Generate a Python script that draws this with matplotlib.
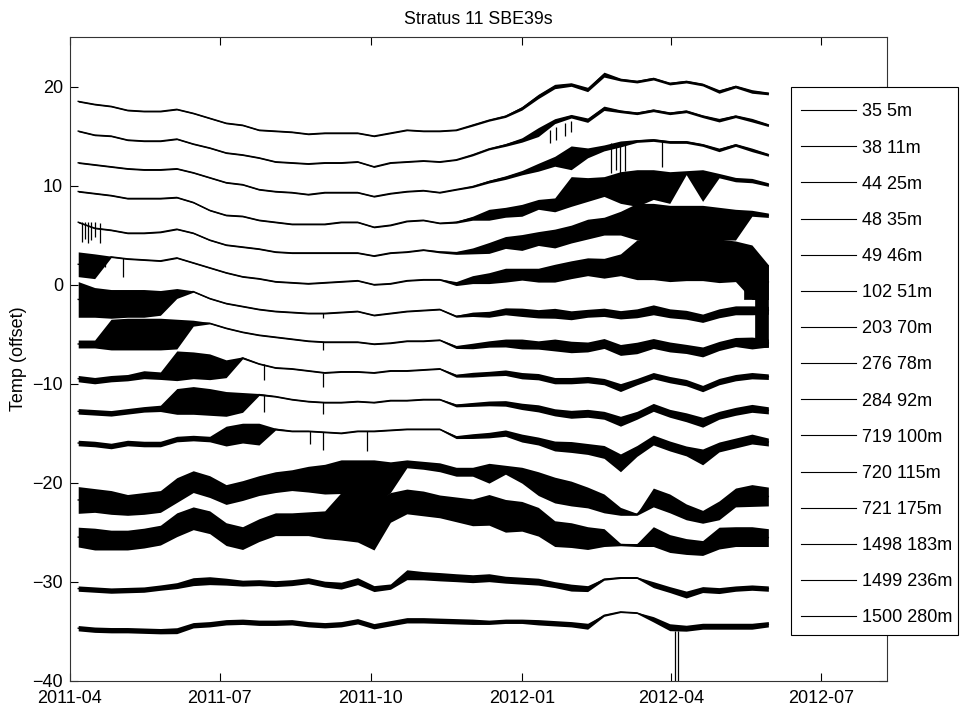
import numpy as np
import pandas as pd
import matplotlib
matplotlib.use('Agg')
import matplotlib.pyplot as plt
import matplotlib.dates as mdates
from matplotlib.patches import Rectangle

plt.rcParams['font.family'] = ['Liberation Sans', 'DejaVu Sans']

# --- data ---------------------------------------------------------------
# one sample every 10 days, 2011-04-06 .. 2012-05-30
dates = pd.date_range('2011-04-06', periods=43, freq='10D')

labels = ['35 5m', '38 11m', '44 25m', '48 35m', '49 46m', '102 51m', '203 70m',
          '276 78m', '284 92m', '719 100m', '720 115m', '721 175m', '1498 183m',
          '1499 236m', '1500 280m']

# centre of each trace (offset temperature) and half-width of its noise band
s01_mid = [18.5, 18.2, 18.0, 17.6, 17.5, 17.5, 17.7, 17.3, 16.8, 16.3,
           16.1, 15.6, 15.5, 15.4, 15.2, 15.3, 15.3, 15.3, 15.0, 15.3,
           15.6, 15.5, 15.5, 15.6, 16.1, 16.6, 17.0, 17.8, 19.0, 20.0,
           20.2, 19.7, 21.2, 20.7, 20.5, 20.8, 20.3, 20.5, 20.2, 19.5,
           20.0, 19.5, 19.3]
s01_hw = [0.07, 0.07, 0.07, 0.07, 0.07, 0.07, 0.07, 0.07, 0.07, 0.07,
          0.07, 0.07, 0.07, 0.07, 0.07, 0.07, 0.07, 0.07, 0.07, 0.07,
          0.07, 0.07, 0.07, 0.07, 0.1, 0.1, 0.12, 0.18, 0.22, 0.22,
          0.18, 0.22, 0.25, 0.14, 0.14, 0.14, 0.14, 0.14, 0.14, 0.18,
          0.14, 0.18, 0.14]

s02_mid = [15.5, 15.1, 15.0, 14.6, 14.5, 14.5, 14.7, 14.2, 13.8, 13.3,
           13.1, 12.8, 12.4, 12.3, 12.2, 12.3, 12.3, 12.4, 11.9, 12.3,
           12.4, 12.5, 12.4, 12.6, 13.1, 13.7, 14.1, 14.6, 15.4, 16.5,
           17.0, 16.6, 17.8, 17.5, 17.3, 17.6, 17.3, 17.5, 17.0, 16.6,
           17.0, 16.6, 16.1]
s02_hw = [0.07, 0.07, 0.07, 0.07, 0.07, 0.07, 0.07, 0.07, 0.07, 0.07,
          0.07, 0.07, 0.07, 0.07, 0.07, 0.07, 0.07, 0.07, 0.07, 0.07,
          0.07, 0.07, 0.07, 0.07, 0.1, 0.1, 0.14, 0.22, 0.45, 0.25,
          0.18, 0.22, 0.22, 0.14, 0.14, 0.14, 0.14, 0.14, 0.14, 0.18,
          0.14, 0.18, 0.14]

s03_mid = [12.3, 12.1, 11.9, 11.7, 11.6, 11.6, 11.7, 11.3, 10.8, 10.3,
           10.1, 9.6, 9.4, 9.3, 9.1, 9.3, 9.3, 9.3, 8.9, 9.2,
           9.4, 9.5, 9.3, 9.6, 9.9, 10.4, 10.8, 11.3, 11.85, 12.45,
           12.8, 13.3, 13.8, 14.2, 14.5, 14.6, 14.4, 14.4, 14.1, 13.6,
           14.1, 13.6, 13.1]
s03_hw = [0.07, 0.07, 0.07, 0.07, 0.07, 0.07, 0.07, 0.07, 0.07, 0.07,
          0.07, 0.07, 0.07, 0.07, 0.07, 0.07, 0.07, 0.07, 0.07, 0.07,
          0.07, 0.07, 0.07, 0.07, 0.1, 0.14, 0.18, 0.22, 0.4, 0.5,
          1.2, 0.5, 0.3, 0.3, 0.14, 0.14, 0.14, 0.14, 0.14, 0.18,
          0.14, 0.18, 0.14]

s04_mid = [9.4, 9.2, 9.0, 8.7, 8.7, 8.7, 8.8, 8.3, 7.5, 7.0,
           6.9, 6.5, 6.3, 6.1, 6.1, 6.1, 6.3, 6.3, 5.8, 6.0,
           6.4, 6.5, 6.2, 6.3, 6.7, 7.05, 7.3, 7.5, 8.1, 8.05,
           9.4, 9.6, 9.9, 9.8, 9.75, 10.1, 9.8, 11.3, 10.0, 11.0,
           10.6, 10.5, 10.1]
s04_hw = [0.07, 0.07, 0.07, 0.07, 0.07, 0.07, 0.07, 0.07, 0.07, 0.07,
          0.07, 0.07, 0.07, 0.07, 0.07, 0.07, 0.07, 0.07, 0.07, 0.07,
          0.07, 0.07, 0.07, 0.1, 0.2, 0.55, 0.5, 0.6, 0.5, 0.7,
          1.5, 1.2, 1.0, 1.6, 1.85, 1.5, 1.6, 0.2, 1.6, 0.22,
          0.22, 0.22, 0.18]

s05_mid = [6.3, 5.7, 5.5, 5.2, 5.2, 5.3, 5.6, 5.2, 4.5, 4.0,
           3.8, 3.6, 3.3, 3.2, 3.2, 3.2, 3.2, 3.2, 2.9, 3.2,
           3.3, 3.5, 3.3, 3.2, 3.4, 3.7, 4.25, 4.25, 4.65, 4.65,
           5.1, 5.6, 5.9, 6.2, 6.35, 6.35, 6.25, 6.25, 6.25, 6.15,
           6.05, 7.2, 7.0]
s05_hw = [0.07, 0.07, 0.07, 0.07, 0.07, 0.07, 0.07, 0.07, 0.07, 0.07,
          0.07, 0.07, 0.07, 0.07, 0.07, 0.07, 0.07, 0.07, 0.07, 0.07,
          0.07, 0.07, 0.1, 0.15, 0.3, 0.55, 0.6, 0.8, 0.7, 0.95,
          0.9, 1.0, 0.9, 1.2, 1.85, 1.85, 1.75, 1.75, 1.75, 1.65,
          1.55, 0.3, 0.22]

s06_mid = [2.05, 1.85, 2.8, 2.6, 2.5, 2.4, 2.7, 2.2, 1.7, 1.2,
           0.8, 0.6, 0.3, 0.2, 0.1, 0.2, 0.3, 0.4, 0.0, 0.1,
           0.4, 0.5, 0.5, 0.1, 0.5, 0.65, 0.95, 1.05, 0.95, 1.15,
           1.5, 1.8, 1.65, 2.0, 2.5, 2.65, 2.55, 2.6, 2.6, 2.4,
           2.35, 1.25, 0.25]
s06_hw = [1.25, 1.25, 0.07, 0.07, 0.07, 0.07, 0.07, 0.07, 0.07, 0.07,
          0.07, 0.07, 0.07, 0.07, 0.07, 0.07, 0.07, 0.07, 0.07, 0.07,
          0.07, 0.07, 0.07, 0.2, 0.4, 0.55, 0.7, 0.6, 0.7, 0.9,
          0.9, 0.9, 1.0, 1.1, 2.0, 2.15, 2.25, 2.2, 2.2, 2.2,
          2.05, 2.75, 1.75]

s07_mid = [-1.5, -1.8, -1.95, -1.9, -1.9, -1.85, -0.9, -0.7, -1.4, -1.9,
           -2.2, -2.5, -2.7, -2.8, -2.9, -2.9, -2.8, -2.7, -3.1, -2.9,
           -2.7, -2.6, -2.5, -3.2, -3.0, -3.0, -2.7, -2.8, -2.95, -2.9,
           -3.1, -2.9, -2.8, -3.05, -2.9, -2.55, -2.9, -3.05, -3.4, -2.9,
           -2.6, -2.6, -2.6]
s07_hw = [1.8, 1.5, 1.45, 1.4, 1.4, 1.25, 0.5, 0.07, 0.07, 0.07,
          0.07, 0.07, 0.07, 0.07, 0.07, 0.07, 0.07, 0.07, 0.07, 0.07,
          0.07, 0.07, 0.07, 0.1, 0.22, 0.3, 0.35, 0.42, 0.42, 0.5,
          0.45, 0.4, 0.42, 0.42, 0.45, 0.5, 0.45, 0.45, 0.42, 0.45,
          0.45, 0.45, 0.4]

s08_mid = [-6.0, -6.0, -5.05, -5.0, -5.0, -5.0, -5.0, -3.9, -3.9, -4.4,
           -4.8, -5.1, -5.3, -5.5, -5.7, -5.8, -5.8, -5.8, -6.0, -5.9,
           -5.7, -5.7, -5.6, -6.3, -6.2, -6.0, -5.9, -6.0, -6.1, -6.1,
           -6.3, -6.3, -5.95, -6.6, -6.4, -5.95, -6.3, -6.5, -6.8, -6.2,
           -5.8, -5.9, -5.9]
s08_hw = [0.4, 0.4, 1.55, 1.6, 1.6, 1.6, 1.5, 0.3, 0.07, 0.07,
          0.07, 0.07, 0.07, 0.07, 0.07, 0.07, 0.07, 0.07, 0.07, 0.07,
          0.07, 0.07, 0.07, 0.15, 0.28, 0.32, 0.4, 0.5, 0.42, 0.6,
          0.58, 0.5, 0.5, 0.55, 0.58, 0.5, 0.5, 0.46, 0.5, 0.46,
          0.46, 0.6, 0.4]

s09_mid = [-9.5, -9.7, -9.5, -9.4, -9.1, -9.2, -8.2, -8.15, -8.3, -8.5,
           -7.4, -8.0, -8.4, -8.5, -8.7, -8.9, -8.8, -8.8, -8.9, -8.7,
           -8.7, -8.6, -8.5, -9.2, -9.1, -9.0, -8.9, -9.2, -9.3, -9.7,
           -9.7, -9.6, -9.8, -10.4, -9.8, -9.2, -9.6, -9.9, -10.5, -9.8,
           -9.4, -9.2, -9.3]
s09_hw = [0.32, 0.32, 0.32, 0.32, 0.4, 0.38, 1.5, 1.35, 1.3, 0.9,
          0.1, 0.07, 0.07, 0.07, 0.07, 0.07, 0.07, 0.07, 0.07, 0.07,
          0.07, 0.07, 0.07, 0.15, 0.24, 0.24, 0.28, 0.32, 0.32, 0.32,
          0.32, 0.32, 0.32, 0.4, 0.32, 0.32, 0.32, 0.32, 0.32, 0.32,
          0.32, 0.32, 0.28]

s10_mid = [-12.8, -12.9, -13.0, -12.8, -12.6, -12.5, -11.8, -11.7, -11.85, -12.05,
           -11.9, -11.1, -11.3, -11.6, -11.8, -11.9, -11.9, -11.8, -11.9, -11.7,
           -11.7, -11.6, -11.6, -12.2, -12.1, -12.0, -12.0, -12.3, -12.5, -12.9,
           -13.1, -13.0, -13.2, -13.8, -13.2, -12.4, -13.0, -13.4, -13.9, -13.2,
           -12.8, -12.5, -12.7]
s10_hw = [0.28, 0.28, 0.28, 0.28, 0.28, 0.32, 1.3, 1.4, 1.35, 1.25,
          1.0, 0.1, 0.07, 0.07, 0.07, 0.07, 0.07, 0.07, 0.07, 0.07,
          0.07, 0.07, 0.07, 0.15, 0.2, 0.24, 0.28, 0.32, 0.36, 0.36,
          0.4, 0.4, 0.4, 0.5, 0.4, 0.4, 0.4, 0.45, 0.5, 0.4,
          0.4, 0.4, 0.36]

s11_mid = [-16.0, -16.1, -16.3, -16.0, -16.1, -16.1, -15.6, -15.5, -15.6, -15.3,
           -15.0, -15.1, -14.6, -14.8, -14.8, -14.9, -15.0, -14.8, -14.8, -14.7,
           -14.6, -14.6, -14.6, -15.4, -15.3, -15.2, -15.0, -15.5, -15.8, -16.3,
           -16.4, -16.6, -16.9, -18.0, -16.8, -15.7, -16.3, -16.8, -17.4, -16.4,
           -16.0, -15.6, -15.9]
s11_hw = [0.28, 0.28, 0.28, 0.28, 0.28, 0.28, 0.28, 0.28, 0.28, 1.0,
          1.0, 1.1, 0.1, 0.07, 0.07, 0.07, 0.07, 0.07, 0.07, 0.07,
          0.07, 0.07, 0.07, 0.15, 0.24, 0.28, 0.32, 0.4, 0.4, 0.5,
          0.55, 0.55, 0.65, 0.9, 0.55, 0.5, 0.5, 0.5, 0.8, 0.5,
          0.5, 0.5, 0.4]

s12_mid = [-21.75, -21.8, -22.0, -22.25, -22.1, -21.9, -20.75, -19.9, -20.4, -21.2,
           -20.8, -20.3, -19.95, -19.75, -19.65, -19.65, -19.4, -19.85, -20.05, -19.45,
           -18.1, -18.25, -18.45, -18.9, -18.9, -19.05, -18.7, -19.25, -20.1, -20.75,
           -21.1, -21.5, -22.1, -22.9, -23.2, -21.5, -22.1, -22.95, -23.45, -22.8,
           -21.5, -21.3, -21.4]
s12_hw = [1.35, 1.2, 1.2, 1.05, 1.1, 1.1, 1.25, 1.1, 1.1, 1.0,
          1.0, 1.0, 1.05, 1.05, 1.3, 1.5, 1.7, 2.15, 2.35, 1.55,
          0.4, 0.4, 0.45, 0.45, 0.45, 1.0, 0.45, 0.8, 1.2, 1.3,
          1.25, 1.05, 0.95, 0.4, 0.1, 0.95, 0.95, 0.8, 0.65, 0.95,
          0.95, 1.1, 0.95]

s13_mid = [-25.5, -25.7, -25.8, -25.8, -25.6, -25.3, -24.25, -23.6, -24.0, -25.2,
           -25.6, -24.8, -24.2, -24.2, -24.15, -24.25, -23.4, -23.5, -24.4, -22.5,
           -21.9, -22.1, -22.4, -22.7, -23.0, -22.75, -23.35, -23.4, -23.95, -25.15,
           -25.3, -25.6, -25.55, -26.25, -26.3, -25.45, -26.15, -26.45, -26.6, -25.6,
           -25.45, -25.45, -25.55]
s13_hw = [1.0, 1.1, 1.0, 1.0, 1.0, 1.0, 1.2, 1.15, 1.15, 1.15,
          1.15, 1.15, 1.15, 1.15, 1.2, 1.4, 2.4, 2.5, 2.4, 1.5,
          1.25, 1.25, 1.15, 1.25, 1.35, 1.55, 1.65, 1.5, 1.45, 1.3,
          1.25, 1.15, 0.9, 0.12, 0.15, 1.0, 0.9, 0.8, 0.75, 1.1,
          1.0, 1.0, 0.9]

s14_mid = [-30.7, -30.8, -30.9, -30.85, -30.8, -30.6, -30.4, -30.0, -29.9, -30.0,
           -30.15, -30.1, -30.2, -30.1, -29.9, -30.25, -30.4, -29.95, -30.7, -30.5,
           -29.3, -29.4, -29.5, -29.6, -29.7, -29.6, -29.8, -29.9, -30.0, -30.3,
           -30.6, -30.7, -29.75, -29.6, -29.6, -30.3, -30.8, -31.3, -30.8, -30.9,
           -30.7, -30.6, -30.7]
s14_hw = [0.27, 0.27, 0.27, 0.27, 0.27, 0.27, 0.3, 0.4, 0.4, 0.35,
          0.3, 0.3, 0.3, 0.3, 0.3, 0.3, 0.35, 0.35, 0.3, 0.27,
          0.5, 0.42, 0.42, 0.4, 0.4, 0.4, 0.35, 0.35, 0.35, 0.3,
          0.35, 0.3, 0.1, 0.08, 0.08, 0.3, 0.3, 0.35, 0.3, 0.3,
          0.27, 0.27, 0.27]

s15_mid = [-34.7, -34.85, -34.9, -34.9, -34.95, -35.0, -34.95, -34.4, -34.3, -34.1,
           -34.05, -34.15, -34.15, -34.1, -34.3, -34.4, -34.3, -34.0, -34.5, -34.2,
           -33.9, -33.9, -33.95, -34.0, -34.05, -34.1, -34.0, -34.0, -34.1, -34.2,
           -34.3, -34.5, -33.4, -33.05, -33.15, -33.8, -34.6, -34.7, -34.5, -34.5,
           -34.5, -34.5, -34.3]
s15_hw = [0.27, 0.27, 0.27, 0.27, 0.27, 0.27, 0.3, 0.27, 0.27, 0.27,
          0.27, 0.27, 0.27, 0.27, 0.27, 0.27, 0.27, 0.27, 0.27, 0.27,
          0.27, 0.27, 0.27, 0.27, 0.27, 0.22, 0.22, 0.22, 0.27, 0.27,
          0.27, 0.3, 0.1, 0.07, 0.07, 0.27, 0.35, 0.3, 0.3, 0.3,
          0.3, 0.3, 0.27]

mids = [s01_mid, s02_mid, s03_mid, s04_mid, s05_mid, s06_mid, s07_mid, s08_mid,
        s09_mid, s10_mid, s11_mid, s12_mid, s13_mid, s14_mid, s15_mid]
hws = [s01_hw, s02_hw, s03_hw, s04_hw, s05_hw, s06_hw, s07_hw, s08_hw,
       s09_hw, s10_hw, s11_hw, s12_hw, s13_hw, s14_hw, s15_hw]

# isolated dropouts / spikes: date, top, bottom
spike_dates = ['2011-04-08', '2011-04-10', '2011-04-12', '2011-04-14', '2011-04-16', '2011-04-19',
               '2011-04-22', '2011-05-03',
               '2011-07-28', '2011-07-28', '2011-09-02', '2011-09-02', '2011-09-02',
               '2011-09-02', '2011-09-02', '2011-08-25', '2011-09-29',
               '2012-01-18', '2012-01-22', '2012-01-27', '2012-01-31',
               '2012-02-24', '2012-02-27', '2012-03-01', '2012-03-04',
               '2012-03-26', '2012-04-03', '2012-04-05']
spike_top = [6.3, 6.3, 6.3, 6.3, 6.3, 6.2,
             2.9, 2.7,
             -8.0, -11.1, -8.9, -11.9, -14.9,
             -5.8, -2.9, -14.8, -14.8,
             15.6, 15.9, 16.3, 16.5,
             14.3, 14.3, 14.4, 14.4,
             14.5, -35.0, -35.0]
spike_bot = [4.3, 4.6, 4.2, 4.5, 4.8, 4.2,
             1.8, 0.8,
             -9.6, -12.9, -10.3, -13.1, -16.7,
             -6.6, -3.4, -16.1, -16.8,
             14.3, 14.6, 15.0, 15.4,
             11.3, 11.6, 11.0, 11.5,
             11.9, -45.0, -45.0]

# dense dropout blocks at the end of the record: start, end, low, high
burst_start = ['2012-05-15', '2012-05-22']
burst_end = ['2012-05-30', '2012-05-30']
burst_lo = [-1.5, -6.3]
burst_hi = [2.0, -1.5]

# --- plot ---------------------------------------------------------------
W, H = 969, 713
fig = plt.figure(figsize=(W / 100, H / 100), dpi=100)
ax = fig.add_axes([70 / W, 1 - 680.7 / H, (887 - 70) / W, (680.7 - 37) / H])

for lab, m, h in zip(labels, mids, hws):
    m = np.array(m)
    h = np.array(h)
    ax.fill_between(dates, m - h, m + h, color='k', lw=0)
    ax.plot(dates, m, color='k', lw=1.0, label=lab)

ax.vlines(pd.to_datetime(spike_dates), spike_bot, spike_top, color='k', lw=0.9)
for s, e, lo, hi in zip(burst_start, burst_end, burst_lo, burst_hi):
    ax.fill_between(pd.to_datetime([s, e]), [lo, lo], [hi, hi], color='k', lw=0.5)

ax.set_xlim(pd.Timestamp('2011-04-01'), pd.Timestamp('2012-08-10 05:00'))
ax.set_ylim(-40, 25)
ax.set_yticks([-40, -30, -20, -10, 0, 10, 20])
ax.set_xticks(pd.to_datetime(['2011-04-01', '2011-07-01', '2011-10-01',
                              '2012-01-01', '2012-04-01', '2012-07-01']))
ax.xaxis.set_major_formatter(mdates.DateFormatter('%Y-%m'))
ax.tick_params(direction='in', top=True, right=True, length=6, width=0.8,
               labelsize=13)
ax.tick_params(axis='x', pad=7)
ax.tick_params(axis='y', pad=5)
for sp in ax.spines.values():
    sp.set_linewidth(0.8)
    sp.set_color('#333333')

ax.set_ylabel('Temp (offset)', fontsize=13, labelpad=4)
ax.set_title('Stratus 11 SBE39s', fontsize=12.8, pad=9)

# legend box (MATLAB style, sticks out past the right axis edge)
box = Rectangle((790.7 / W, 1 - 635 / H), (958 - 790.7) / W, (635 - 87.3) / H,
                transform=fig.transFigure, facecolor='white', edgecolor='k',
                lw=0.8, zorder=4.5, clip_on=False)
ax.add_artist(box)
leg = ax.legend(loc='upper left', bbox_to_anchor=(800.7 / W, 1 - 103.5 / H),
                bbox_transform=fig.transFigure, fontsize=13, frameon=False,
                handlelength=3.05, handletextpad=0.37, labelspacing=1.06,
                borderpad=0, borderaxespad=0)
leg.set_zorder(5)
for ln in leg.get_lines():
    ln.set_linewidth(0.8)

fig.savefig('out.png', dpi=100)
